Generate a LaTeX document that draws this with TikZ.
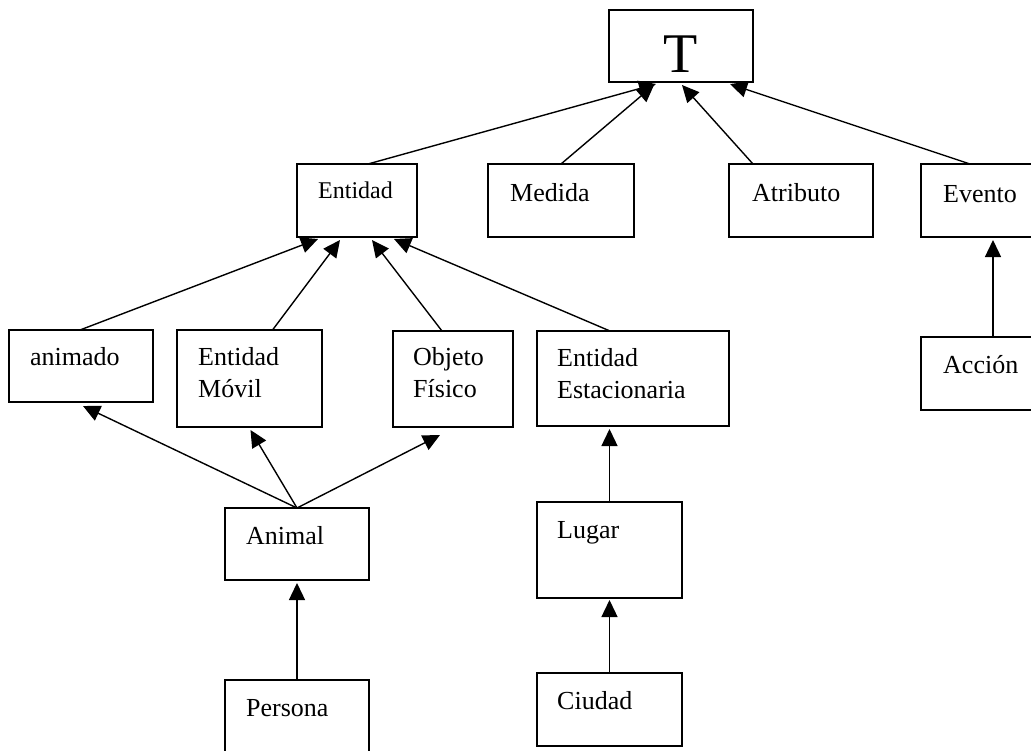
\documentclass[tikz,border=0pt]{standalone}
\usepackage{fontspec}
\setmainfont{Liberation Serif}
\usetikzlibrary{arrows.meta}
\begin{document}
\begin{tikzpicture}[x=1pt,y=-1pt,
  box/.style={draw, line width=1.3pt, inner sep=0pt, outer sep=0pt, anchor=north west},
  lbl/.style={anchor=base west, inner sep=0pt, font=\fontsize{26}{30}\selectfont},
  isa/.style={line width=1.4pt, -{Triangle[length=17pt,width=16pt]}}]
\useasboundingbox (0,0) rectangle (1031,750);

% top concept
\node[box, minimum width=144pt, minimum height=72pt] (T) at (609,10) {};
\node[anchor=base, inner sep=0pt, font=\fontsize{56}{60}\selectfont] (Tt) at (681,72) {T};

% first level
\node[box, minimum width=120pt, minimum height=73pt] (ent) at (297,164) {};
\node[lbl, font=\fontsize{24}{28}\selectfont] (entt) at (318,198) {Entidad};
\node[box, minimum width=146pt, minimum height=73pt] (med) at (488,164) {};
\node[lbl] (medt) at (510,201) {Medida};
\node[box, minimum width=144pt, minimum height=73pt] (atr) at (729,164) {};
\node[lbl] (atrt) at (752,201) {Atributo};
\node[box, minimum width=130pt, minimum height=73pt] (evt) at (921,164) {};
\node[lbl] (evtt) at (943,202) {Evento};

% second level
\node[box, minimum width=144pt, minimum height=72pt] (ani) at (9,330) {};
\node[lbl] (anit) at (30,365) {animado};
\node[box, minimum width=145pt, minimum height=97pt] (mov) at (177,330) {};
\node[lbl] (movt1) at (198,365) {Entidad};
\node[lbl] (movt2) at (198,397) {Móvil};
\node[box, minimum width=120pt, minimum height=96pt] (obj) at (393,331) {};
\node[lbl] (objt1) at (413,365) {Objeto};
\node[lbl] (objt2) at (413,397) {Físico};
\node[box, minimum width=192pt, minimum height=95pt] (est) at (537,331) {};
\node[lbl] (estt1) at (557,366) {Entidad};
\node[lbl] (estt2) at (557,398) {Estacionaria};
\node[box, minimum width=130pt, minimum height=73pt] (acc) at (921,337) {};
\node[lbl] (acct) at (943,373) {Acción};

% lower levels
\node[box, minimum width=144pt, minimum height=72pt] (anl) at (225,508) {};
\node[lbl] (anlt) at (246,544) {Animal};
\node[box, minimum width=145pt, minimum height=96pt] (lug) at (537,502) {};
\node[lbl] (lugt) at (557,538) {Lugar};
\node[box, minimum width=144pt, minimum height=75pt] (per) at (225,680) {};
\node[lbl] (pert) at (246,716) {Persona};
\node[box, minimum width=145pt, minimum height=73pt] (ciu) at (537,673) {};
\node[lbl] (ciut) at (557,709) {Ciudad};

% is-a links
\draw[isa] ([xshift=11pt]ent.north) -- ([xshift=-25pt,yshift=-2pt]T.south);
\draw[isa] (med.north) -- ([xshift=-27pt,yshift=-3pt]T.south);
\draw[isa] ([xshift=-48pt]atr.north) -- ([xshift=1pt,yshift=-3pt]T.south);
\draw[isa] ([xshift=-16pt]evt.north) -- ([xshift=49pt,yshift=-2pt]T.south);
\draw[isa] ([xshift=7pt]acc.north) -- ([xshift=7pt,yshift=-3pt]evt.south);

\draw[isa] ([xshift=-1pt]ani.north) -- ([xshift=-39pt,yshift=-2pt]ent.south);
\draw[isa] ([xshift=23pt]mov.north) -- ([xshift=-17pt,yshift=-3pt]ent.south);
\draw[isa] ([xshift=-11pt]obj.north) -- ([xshift=15pt,yshift=-3pt]ent.south);
\draw[isa] ([xshift=-23pt]est.north) -- ([xshift=37pt,yshift=-2pt]ent.south);

\draw[isa] (anl.north) -- ([xshift=2pt,yshift=-4pt]ani.south);
\draw[isa] (anl.north) -- ([xshift=1pt,yshift=-3pt]mov.south);
\draw[isa] (anl.north) -- ([xshift=-13pt,yshift=-8pt]obj.south);
\draw[isa] (per.north) -- ([yshift=-3pt]anl.south);

\draw[isa] (lug.north) -- ([xshift=-23.5pt,yshift=-3pt]est.south);
\draw[isa] (ciu.north) -- ([yshift=-2pt]lug.south);
\end{tikzpicture}
\end{document}
